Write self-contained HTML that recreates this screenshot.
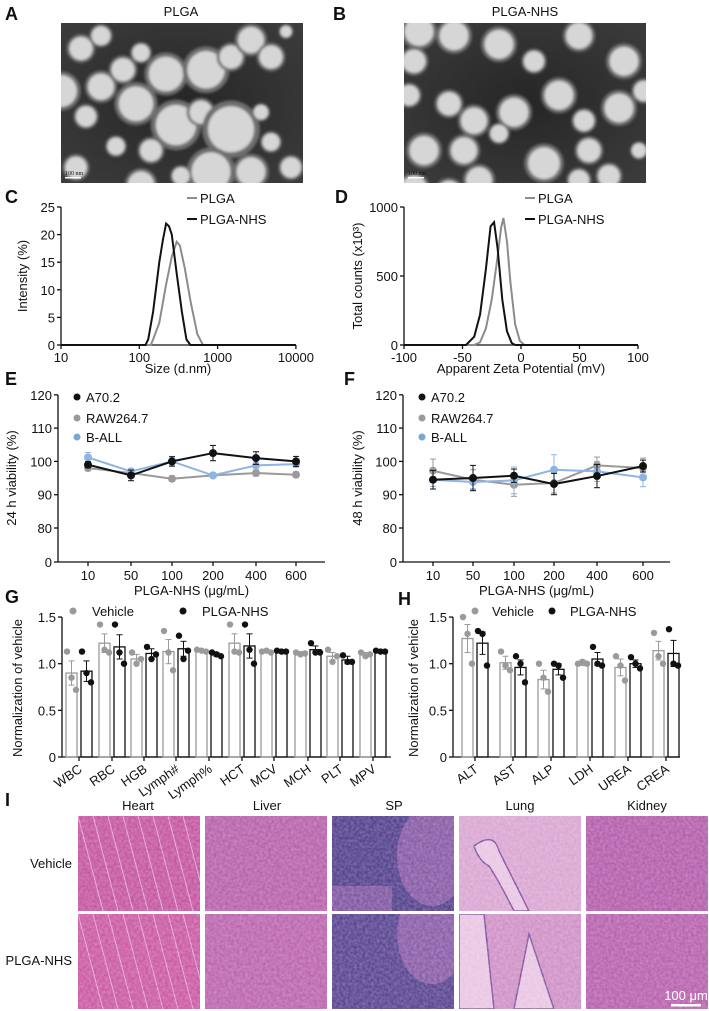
<!DOCTYPE html>
<html><head><meta charset="utf-8">
<style>
html,body{margin:0;padding:0;background:#fff;}
svg{display:block;font-family:"Liberation Sans",Arial,sans-serif;}
text{fill:#111;}
.t{font-size:13px;}
.lab{font-size:18px;font-weight:bold;}
</style></head>
<body>
<svg id="fig" width="709" height="1011" viewBox="0 0 709 1011" xmlns="http://www.w3.org/2000/svg">
<defs>
<filter id="noise" x="0" y="0" width="100%" height="100%">
<feTurbulence type="fractalNoise" baseFrequency="0.35" numOctaves="2" seed="3"/>
<feColorMatrix type="matrix" values="0 0 0 0 1  0 0 0 0 1  0 0 0 0 1  0 0 0 -1.2 1.1"/>
</filter>
<filter id="blur1"><feGaussianBlur stdDeviation="1.2"/></filter>
<radialGradient id="temBg" cx="50%" cy="50%" r="70%"><stop offset="0" stop-color="#262626"/><stop offset="1" stop-color="#3c3c3c"/></radialGradient>
</defs>
<g id="root"></g>
</svg>
<script>
// ---------- DATA ----------
const cSizeNHS=[10,120,130,150,180,200,220,240,260,300,350,400,450,10000];
const cIntNHS=[0,0,1,6,15,19,22,21.5,20,13,6,1,0,0];
const cSizePLGA=[10,140,150,180,220,260,300,330,380,450,550,650,10000];
const cIntPLGA=[0,0,1,4,11,16,18.7,18,14,8,2,0,0];
const dZetaNHS=[-100,-47,-40,-35,-30,-26,-23,-20,-16,-12,-8,-5,100];
const dCntNHS=[0,0,60,220,550,860,890,700,330,100,15,0,0];
const dZetaPLGA=[-100,-40,-35,-30,-25,-20,-17,-15,-12,-9,-5,-1,3,100];
const dCntPLGA=[0,0,20,120,330,640,850,920,750,450,150,30,0,0];

const doseCats=["10","50","100","200","400","600"];
const eA70=[99,95.8,100,102.5,101,100];
const eA70Err=[0.9,1.6,1.4,2.3,1.9,1.5];
const eRAW=[98,96.5,94.8,95.8,96.5,96];
const eRAWErr=[0.8,0.8,0.8,0.6,0.9,0.8];
const eBALL=[101.2,97,100,95.8,98.8,99.2];
const eBALLErr=[1.5,0.8,1.5,0.6,0.8,0.9];
const fA70=[94.5,95,95.7,93.2,95.6,98.6];
const fA70Err=[2.8,3.8,2.0,3.2,3.5,1.8];
const fRAW=[97.2,94.5,93,93.5,98.8,98];
const fRAWErr=[3.5,3,3.5,3,2.5,3];
const fBALL=[94.5,93.8,94.3,97.5,97,95.2];
const fBALLErr=[2,2,4,4.5,3,2.8];
const vTicks=[0,80,90,100,110,120];

const gCats=["WBC","RBC","HGB","Lymph#","Lymph%","HCT","MCV","MCH","PLT","MPV"];
const gVeh=[0.9,1.22,1.05,1.13,1.14,1.22,1.13,1.11,1.08,1.1];
const gVehErr=[0.13,0.1,0.05,0.13,0.01,0.1,0.01,0.02,0.04,0.02];
const gNHS=[0.92,1.18,1.11,1.16,1.1,1.19,1.13,1.15,1.04,1.13];
const gNHSErr=[0.11,0.13,0.05,0.08,0.02,0.13,0.01,0.04,0.04,0.01];
const gVehDots=[[1.13,0.85,0.72],[1.42,1.15,1.12],[1.12,1.0,1.05],[1.35,1.12,0.93],[1.15,1.14,1.13],[1.42,1.13,1.12],[1.13,1.14,1.12],[1.12,1.1,1.11],[1.15,1.02,1.08],[1.12,1.08,1.1]];
const gNHSDots=[[1.13,0.9,0.8],[1.42,1.12,1.0],[1.18,1.05,1.1],[1.3,1.05,1.14],[1.12,1.1,1.08],[1.42,1.15,1.0],[1.14,1.13,1.13],[1.22,1.12,1.12],[1.09,1.02,1.02],[1.14,1.13,1.13]];
const hCats=["ALT","AST","ALP","LDH","UREA","CREA"];
const hVeh=[1.27,1.01,0.83,1.01,0.96,1.14];
const hVehErr=[0.15,0.07,0.1,0.03,0.09,0.1];
const hNHS=[1.22,0.96,0.94,1.05,1.0,1.11];
const hNHSErr=[0.12,0.08,0.06,0.07,0.04,0.14];
const hVehDots=[[1.5,1.32,1.0],[1.13,0.98,0.93],[1.0,0.85,0.7],[1.0,1.02,1.0],[1.08,0.98,0.82],[1.33,1.08,1.0]];
const hNHSDots=[[1.35,1.32,0.98],[1.08,1.0,0.8],[1.0,0.98,0.85],[1.18,1.0,0.98],[1.07,1.0,0.95],[1.37,1.0,0.98]];
const gTicks=[0,0.5,1.0,1.5];

const organs=["Heart","Liver","SP","Lung","Kidney"];
const groups=["Vehicle","PLGA-NHS"];

// ---------- HELPERS ----------
const NS="http://www.w3.org/2000/svg";
const root=document.getElementById('root');
function el(tag,attrs,parent,txt){const e=document.createElementNS(NS,tag);for(const k in attrs)e.setAttribute(k,attrs[k]);if(txt!==undefined)e.textContent=txt;(parent||root).appendChild(e);return e;}
function grp(name){const g=el('g',{});return g;}
function txt(g,x,y,s,name,opt){const t=el('text',Object.assign({x:x,y:y,class:'t'},opt||{}),g,s);return t;}
function line(g,x1,y1,x2,y2,c,w){return el('line',{x1,y1,x2,y2,stroke:c||'#111','stroke-width':w||1.3},g);}

// ---------- PANEL LABELS ----------
[["A",5,20],["B",333,20],["C",5,203],["D",335,203],["E",5,385],["F",344,385],["G",5,603],["H",398,605],["I",5,806]].forEach(p=>{
 const t=el('text',{x:p[1],y:p[2],class:'lab'},root,p[0]);
 
 
});

// ---------- TEM ----------
const temA=[[20,30,16],[40,15,13],[80,35,12],[62,55,16],[75,95,24],[105,60,24],[145,55,26],[170,40,16],[190,20,18],[210,40,16],[40,75,18],[0,80,22],[25,110,14],[115,120,28],[140,105,16],[170,125,32],[90,150,15],[55,145,12],[150,175,27],[190,175,20],[210,140,12],[200,105,10],[120,180,12],[80,190,18],[15,170,15],[230,170,14],[225,10,8]];
const temB=[[15,10,20],[50,15,20],[95,25,20],[130,45,14],[175,15,18],[220,45,20],[10,45,16],[45,95,16],[70,115,18],[110,105,20],[155,85,20],[180,115,14],[215,100,20],[5,85,14],[20,150,20],[60,150,18],[95,130,12],[140,165,22],[185,150,16],[10,195,18],[45,200,17],[75,185,18],[175,185,14],[205,180,15],[240,80,14],[235,150,10]];
[[61,temA,"PLGA",181,"tem-image-plga"],[404,temB,"PLGA-NHS",525,"tem-image-plga-nhs"]].forEach(s=>{
 const g=grp(s[4]);
 txt(g,s[3],16,s[2],'tem-title',{'text-anchor':'middle'});
 const cp=el('clipPath',{id:'cp'+s[0]},g);el('rect',{x:s[0],y:23,width:242,height:160},cp);
 const ig=el('g',{'clip-path':'url(#cp'+s[0]+')'},g);
 el('rect',{x:s[0],y:23,width:242,height:160,fill:'url(#temBg)'},ig);
 const bg=el('g',{filter:'url(#blur1)'},ig);
 s[1].forEach(c=>{el('circle',{cx:s[0]+c[0],cy:23+c[1]*0.85,r:c[2]*0.9,fill:'#6e6e6e'},bg);el('circle',{cx:s[0]+c[0],cy:23+c[1]*0.85,r:c[2]*0.72,fill:'#d6d6d6'},bg);});
 el('rect',{x:s[0]+4,y:177,width:16,height:1.5,fill:'#fff'},g);
 const sb=el('text',{x:s[0]+4,y:175,'font-size':'6',fill:'#fff','font-family':'Liberation Serif'},g,'100 nm');
});

// ---------- LINE PLOTS C/D ----------
function xyAxes(g,x0,x1,y0,y1,xt,xmap,yt,ymap){
 line(g,x0,y0,x1,y0);line(g,x0,y0,x0,y1);
 xt.forEach(v=>{const x=xmap(v);line(g,x,y0,x,y0+4);txt(g,x,y0+17,String(v),'x-tick-label',{'text-anchor':'middle'});});
 yt.forEach(v=>{const y=ymap(v);line(g,x0-4,y,x0,y);txt(g,x0-6,y+5,String(v),'y-tick-label',{'text-anchor':'end'});});
}
(function(){
 const g=grp('size-distribution-chart');
 const X=v=>61+(Math.log10(v)-1)*78.3, Y=v=>345-v*5.52;
 xyAxes(g,61,296,345,207,[10,100,1000,10000],X,[0,5,10,15,20,25],Y);
 txt(g,178,373,'Size (d.nm)','x-axis-title',{'text-anchor':'middle'});
 txt(g,27,276,'Intensity (%)','y-axis-title',{'text-anchor':'middle',transform:'rotate(-90 27 276)'});
 const p1=el('polyline',{points:cSizePLGA.map((v,i)=>X(v)+','+Y(cIntPLGA[i])).join(' '),fill:'none',stroke:'#8c8c8c','stroke-width':2},g);
 
 const p2=el('polyline',{points:cSizeNHS.map((v,i)=>X(v)+','+Y(cIntNHS[i])).join(' '),fill:'none',stroke:'#111','stroke-width':2},g);
 
 line(g,187,198,197,198,'#8c8c8c',2);txt(g,200,203,'PLGA','legend-entry');
 line(g,187,219,197,219,'#111',2);txt(g,200,224,'PLGA-NHS','legend-entry');
})();
(function(){
 const g=grp('zeta-potential-chart');
 const X=v=>404+(v+100)*1.17, Y=v=>345-v*0.138;
 xyAxes(g,404,638,345,207,[-100,-50,0,50,100],X,[0,500,1000],Y);
 txt(g,521,373,'Apparent Zeta Potential (mV)','x-axis-title',{'text-anchor':'middle'});
 txt(g,362,276,'Total counts (x10³)','y-axis-title',{'text-anchor':'middle',transform:'rotate(-90 362 276)'});
 const p1=el('polyline',{points:dZetaPLGA.map((v,i)=>X(v)+','+Y(dCntPLGA[i])).join(' '),fill:'none',stroke:'#8c8c8c','stroke-width':2},g);
 
 const p2=el('polyline',{points:dZetaNHS.map((v,i)=>X(v)+','+Y(dCntNHS[i])).join(' '),fill:'none',stroke:'#111','stroke-width':2},g);
 
 line(g,525,198,535,198,'#8c8c8c',2);txt(g,538,203,'PLGA','legend-entry');
 line(g,525,219,535,219,'#111',2);txt(g,538,224,'PLGA-NHS','legend-entry');
})();

// ---------- VIABILITY E/F ----------
function viab(name,x0,x1,cx,series,ytitle,tx){
 const g=grp(name);
 const Y=v=>v<=80?562-v*(34/80):528-(v-80)*3.33;
 line(g,x0,562,x1,562);line(g,x0,562,x0,395);
 vTicks.forEach(v=>{const y=Y(v);line(g,x0-4,y,x0,y);txt(g,x0-6,y+5,String(v),'y-tick-label',{'text-anchor':'end'});});
 doseCats.forEach((c,i)=>{line(g,cx[i],562,cx[i],566);txt(g,cx[i],580,c,'x-tick-label',{'text-anchor':'middle'});});
 txt(g,(x0+x1)/2,595,'PLGA-NHS (μg/mL)','x-axis-title',{'text-anchor':'middle','font-size':'14'});
 txt(g,tx,478,ytitle,'y-axis-title',{'text-anchor':'middle',transform:'rotate(-90 '+tx+' 478)'});
 series.forEach(s=>{
  const sg=el('g',{},g);
  el('polyline',{points:s.v.map((v,i)=>cx[i]+','+Y(v)).join(' '),fill:'none',stroke:s.c,'stroke-width':2},sg);
  s.v.forEach((v,i)=>{const y1=Y(v+s.e[i]),y2=Y(v-s.e[i]);line(sg,cx[i],y1,cx[i],y2,s.c,1);line(sg,cx[i]-3,y1,cx[i]+3,y1,s.c,1);line(sg,cx[i]-3,y2,cx[i]+3,y2,s.c,1);
   const d=el('circle',{cx:cx[i],cy:Y(v),r:4,fill:s.c},sg);});
 });
 [["A70.2","#111",402],["RAW264.7","#9a9a9a",423],["B-ALL","#7aa6d6",442]].forEach(l=>{el('circle',{cx:x0+19,cy:l[2]-5,r:3.5,fill:l[1]},g);txt(g,x0+28,l[2],l[0],'legend-entry',{'font-size':'14'});});
}
viab('viability-24h-chart',58,325,[88,131,172,213,256,296],[{n:'raw',v:eRAW,e:eRAWErr,c:'#9a9a9a'},{n:'ball',v:eBALL,e:eBALLErr,c:'#8db4e2'},{n:'a70',v:eA70,e:eA70Err,c:'#111'}],'24 h viability (%)',16);
viab('viability-48h-chart',403,670,[433,473,514,554,597,643],[{n:'raw',v:fRAW,e:fRAWErr,c:'#9a9a9a'},{n:'ball',v:fBALL,e:fBALLErr,c:'#8db4e2'},{n:'a70',v:fA70,e:fA70Err,c:'#111'}],'48 h viability (%)',362);

// ---------- BARS G/H ----------
function bars(name,x0,x1,cx,bw,cats,veh,vehE,nhs,nhsE,vd,nd,tx,leg){
 const g=grp(name);
 const Y=v=>757-v*93.3;
 line(g,x0,757,x1,757);line(g,x0,757,x0,617);
 gTicks.forEach(v=>{const y=Y(v);line(g,x0-4,y,x0,y);txt(g,x0-6,y+5,v===0?'0':v.toFixed(1),'y-tick-label',{'text-anchor':'end','font-size':'15'});});
 txt(g,tx,688,'Normalization of vehicle','y-axis-title',{'text-anchor':'middle',transform:'rotate(-90 '+tx+' 688)','font-size':'14'});
 cats.forEach((c,i)=>{
  line(g,cx[i],757,cx[i],761);
  txt(g,cx[i]+4,771,c,'x-tick-label',{'text-anchor':'end','font-size':'14',transform:'rotate(-35 '+(cx[i]+4)+' 771)'});
  [[veh,vehE,vd,'#9a9a9a',cx[i]-bw-2,'vehicle'],[nhs,nhsE,nd,'#111',cx[i]+2,'plga-nhs']].forEach(s=>{
   const v=s[0][i],e=s[1][i],bx=s[4];
   const r=el('rect',{x:bx,y:Y(v),width:bw,height:757-Y(v),fill:'none',stroke:s[3],'stroke-width':1.3},g);
   
   const m=bx+bw/2;
   line(g,m,Y(v+e),m,Y(v-e),s[3],1);line(g,m-3,Y(v+e),m+3,Y(v+e),s[3],1);line(g,m-3,Y(v-e),m+3,Y(v-e),s[3],1);
   s[2][i].forEach((d,k)=>{const p=el('circle',{cx:m+(k-1)*4.5,cy:Y(d),r:3.2,fill:s[3]},g);});
  });
 });
 el('circle',{cx:leg[0],cy:611,r:3.5,fill:'#9a9a9a'},g);txt(g,leg[1],616,'Vehicle','legend-entry',{'font-size':'14'});
 el('circle',{cx:leg[2],cy:611,r:3.5,fill:'#111'},g);txt(g,leg[3],616,'PLGA-NHS','legend-entry',{'font-size':'14'});
}
bars('blood-routine-chart',62,391,[79,112,144,176,209,242,274,308,340,373],11,gCats,gVeh,gVehErr,gNHS,gNHSErr,gVehDots,gNHSDots,22,[73,92,183,202]);
bars('biochemistry-chart',453,680,[475,513,551,590,628,666],11,hCats,hVeh,hVehErr,hNHS,hNHSErr,hVehDots,hNHSDots,418,[475,492,552,570]);

// ---------- HISTOLOGY ----------
(function(){
 const g=grp('histology-grid');
 const colX=[78,205,332,459,586], rowY=[816,914], w=122,h=95;
 const colors=[["#c24e9c","#c8529f"],["#b45aa8","#b85eab"],["#4c3888","#523c8c"],["#d8a2d0","#cd8cc4"],["#b057a8","#b45baa"]];
 const centers=[138,267,394,520,647];
 organs.forEach((o,i)=>txt(g,centers[i],810,o,'organ-title',{'text-anchor':'middle','font-size':'14'}));
 txt(g,72,868,groups[0],'row-label',{'text-anchor':'end','font-size':'14'});
 txt(g,72,965,groups[1],'row-label',{'text-anchor':'end','font-size':'14'});
 rowY.forEach((y,r)=>colX.forEach((x,c)=>{
  const cg=el('g',{},g);
  const cpid='hc'+r+c;const cp=el('clipPath',{id:cpid},cg);el('rect',{x:x,y:y,width:w,height:h},cp);
  const ig=el('g',{'clip-path':'url(#'+cpid+')'},cg);
  el('rect',{x:x,y:y,width:w,height:h,fill:colors[c][r]},ig);
  if(c===2){el('ellipse',{cx:x+100,cy:y+(r?20:40),rx:35,ry:50,fill:'#9a5fae',opacity:0.7},ig);if(!r)el('rect',{x:x,y:y+70,width:60,height:25,fill:'#9a5fae',opacity:0.6},ig);}
  if(c===3){el('path',{d:r?`M${x} ${y} L${x+25} ${y} L${x+35} ${y+95} L${x} ${y+95} Z M${x+55} ${y+95} L${x+70} ${y+20} L${x+95} ${y+95} Z`:`M${x+15} ${y+30} q20 -15 25 5 q15 30 30 60 l-15 0 q-15 -30 -25 -45 q-10 -5 -15 -20 Z`,fill:'#e8c3e2',stroke:'#7a4a9a','stroke-width':1.5},ig);}
  if(c===0){for(let k=0;k<8;k++)el('line',{x1:x+k*15,y1:y,x2:x+k*15+25,y2:y+h,stroke:'#e0a0cf','stroke-width':1},ig);}
  el('rect',{x:x,y:y,width:w,height:h,filter:'url(#noise)',opacity:0.3},ig);
 }));
 el('rect',{x:671,y:1004,width:30,height:2.5,fill:'#fff'},g);
 txt(g,686,1000,'100 μm','scale-bar-label',{'text-anchor':'middle','font-size':'11',fill:'#fff',style:'fill:#fff'});
})();
</script>
</body></html>
